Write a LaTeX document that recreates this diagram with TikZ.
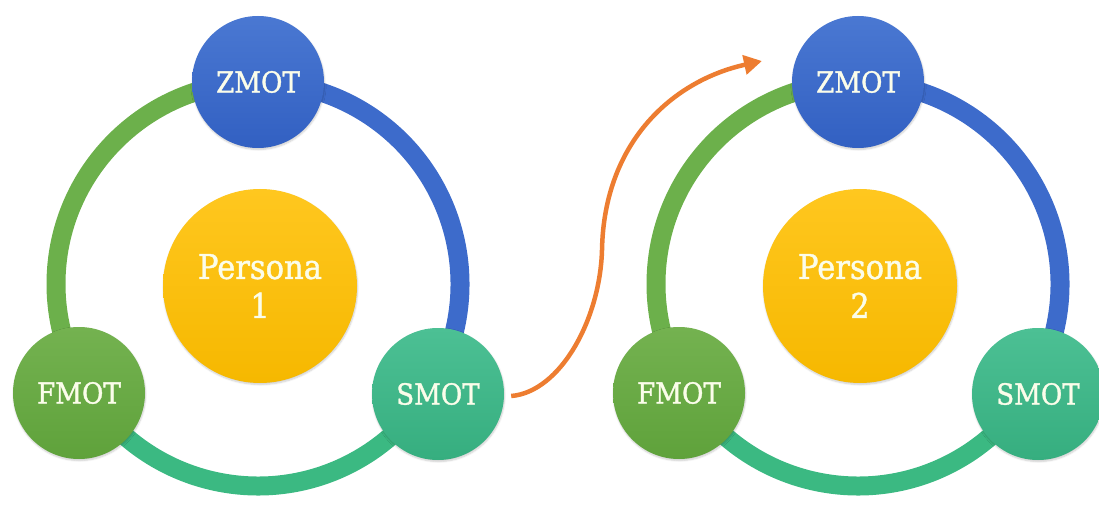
\documentclass[tikz,border=0pt]{standalone}
\usepackage{fontspec}
\newfontfamily\labfont{DejaVu Serif}[FakeStretch=0.9,FakeBold=1.2]
\usetikzlibrary{arrows.meta,shadows.blur,calc}
\definecolor{zblueT}{HTML}{4A78D2}
\definecolor{zblueB}{HTML}{3260C2}
\definecolor{fgreenT}{HTML}{74B250}
\definecolor{fgreenB}{HTML}{5FA23B}
\definecolor{steaT}{HTML}{4CC094}
\definecolor{steaB}{HTML}{36AE7F}
\definecolor{persT}{HTML}{FFC71F}
\definecolor{persB}{HTML}{F6B800}
\definecolor{ablue}{HTML}{3D6BCB}
\definecolor{agreen}{HTML}{6CB04B}
\definecolor{ateal}{HTML}{3BB982}
\definecolor{orangeln}{HTML}{ED7D31}
\definecolor{txt}{HTML}{FBFDEA}
\begin{document}
\begin{tikzpicture}[x=1pt,y=1pt,
  moment/.style={circle, minimum size=132pt, inner sep=0pt, text=txt,
    font=\labfont\fontsize{29}{33}\selectfont,
    blur shadow={shadow blur steps=6, shadow xshift=0.5pt, shadow yshift=-1.5pt, shadow opacity=20}},
  zm/.style={moment, top color=zblueT, bottom color=zblueB},
  fm/.style={moment, top color=fgreenT, bottom color=fgreenB},
  sm/.style={moment, top color=steaT, bottom color=steaB},
  persona/.style={circle, minimum size=194pt, inner sep=0pt, align=center, text=txt,
    font=\labfont\fontsize{34}{39}\selectfont, top color=persT, bottom color=persB,
    blur shadow={shadow blur steps=6, shadow xshift=0.5pt, shadow yshift=-1.5pt, shadow opacity=20}},
  ring/.style={line width=19pt},
  flow/.style={draw=orangeln, line width=4.5pt, -{Triangle[length=18pt,width=19pt]}},
]
\useasboundingbox (0,0) rectangle (1099,504);

\foreach \dx/\n/\p in {0/L/1, 600/R/2}{
  \coordinate (c\n) at (258+\dx,220);
  \draw[ring, draw=agreen] ($(c\n)+(90:202)$) arc[start angle=90, end angle=211.3, radius=202];
  \draw[ring, draw=ateal] ($(c\n)+(211.3:202)$) arc[start angle=211.3, end angle=328.5, radius=202];
  \draw[ring, draw=ablue] ($(c\n)+(328.5:202)$) arc[start angle=328.5, end angle=450, radius=202];
  \node[persona] (pers\n) at (260+\dx,218) {Persona\\\p};
  \node[zm] (zmot\n) at (258+\dx,422) {ZMOT};
  \node[fm] (fmot\n) at (79+\dx,111) {FMOT};
  \node[sm] (smot\n) at (438+\dx,110) {SMOT};
}

\coordinate (aend) at (762,443);
\draw[flow] ([xshift=7pt,yshift=-2pt]smotL.east) .. controls (560,112) and (600,184) .. (602,254)
  .. controls (604,364) and (675,424) .. (aend);
\end{tikzpicture}
\end{document}
